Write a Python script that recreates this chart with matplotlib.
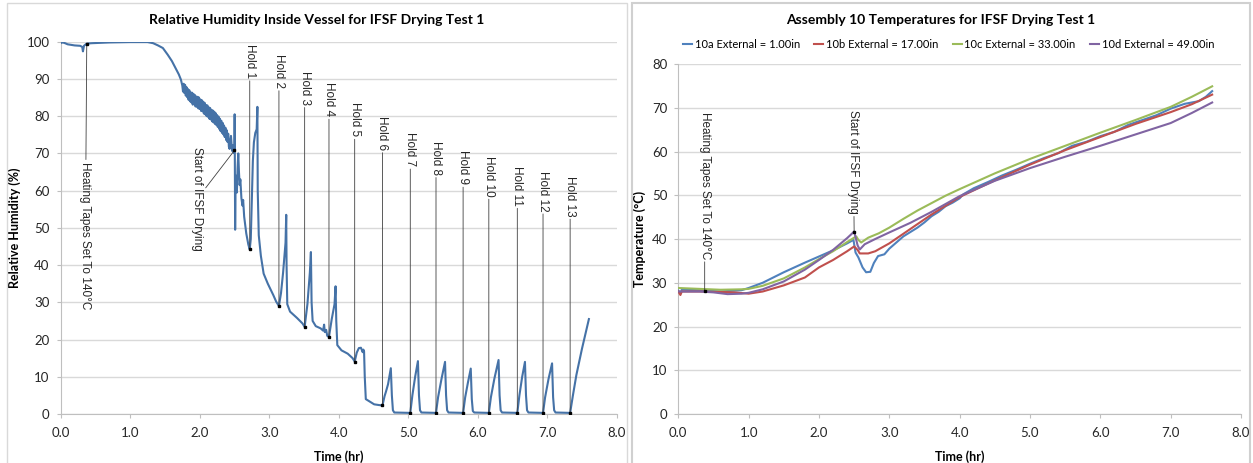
import numpy as np
import matplotlib
matplotlib.use('Agg')
import matplotlib.pyplot as plt
from matplotlib.patches import Rectangle

plt.rcParams['font.family'] = ['Lato', 'DejaVu Sans']

# ---------------- relative humidity inside vessel ----------------
rh_time = [0.00, 0.02, 0.05, 0.10, 0.20, 0.28, 0.31, 0.32, 0.335, 0.375, 0.45, 0.70, 1.00, 1.25,
           1.33, 1.40, 1.47, 1.54, 1.60, 1.65, 1.70, 1.73, 1.75,
           1.76, 1.77, 1.78, 1.79, 1.80, 1.81, 1.82, 1.83, 1.84, 1.85, 1.86, 1.87, 1.88, 1.89,
           1.90, 1.91, 1.92, 1.93, 1.94, 1.95, 1.96, 1.97, 1.98, 1.99, 2.00, 2.01, 2.02, 2.03,
           2.04, 2.05, 2.06, 2.07, 2.08, 2.09, 2.10, 2.11, 2.12, 2.13, 2.14, 2.15, 2.16, 2.17,
           2.18, 2.19, 2.20, 2.21, 2.22, 2.23, 2.24, 2.25, 2.26, 2.27, 2.28, 2.29, 2.30, 2.31,
           2.32, 2.33, 2.34, 2.35, 2.36, 2.37, 2.38, 2.39, 2.40, 2.41, 2.42, 2.43, 2.44, 2.45,
           2.46, 2.47, 2.48, 2.49, 2.50,
           2.503, 2.507, 2.51, 2.515, 2.525, 2.535, 2.545, 2.555, 2.565, 2.575, 2.585, 2.60,
           2.615, 2.625, 2.64, 2.67, 2.70, 2.72,
           2.735, 2.75, 2.765, 2.78, 2.80, 2.82, 2.83, 2.835, 2.85, 2.88, 2.92, 2.98, 3.06, 3.10, 3.14,
           3.17, 3.20, 3.235, 3.245, 3.25, 3.26, 3.30, 3.40, 3.48, 3.51,
           3.55, 3.585, 3.60, 3.61, 3.625, 3.67, 3.74, 3.775, 3.79, 3.80, 3.82, 3.835, 3.86,
           3.90, 3.94, 3.955, 3.965, 3.98, 4.04, 4.13, 4.20, 4.23,
           4.26, 4.29, 4.32, 4.345, 4.355, 4.365, 4.375, 4.39, 4.45, 4.51, 4.58, 4.63,
           4.66, 4.68, 4.71, 4.75, 4.765, 4.78, 4.80, 5.03,
           5.06, 5.10, 5.14, 5.155, 5.17, 5.19, 5.40,
           5.43, 5.48, 5.53, 5.545, 5.56, 5.58, 5.79,
           5.82, 5.86, 5.90, 5.915, 5.93, 5.95, 6.16,
           6.19, 6.24, 6.30, 6.315, 6.33, 6.35, 6.57,
           6.60, 6.64, 6.68, 6.695, 6.71, 6.73, 6.94,
           6.97, 7.02, 7.07, 7.085, 7.10, 7.12, 7.33,
           7.37, 7.42, 7.50, 7.60]
rh_pct = [99.6, 99.8, 99.7, 99.3, 99.0, 98.9, 98.6, 97.4, 98.9, 99.5, 99.6, 99.8, 99.9, 99.9,
          99.6, 99.0, 98.3, 96.5, 94.8, 93.0, 91.2, 89.8, 88.2,
          86.6, 88.7, 86.2, 88.4, 85.5, 87.8, 85.1, 87.3, 84.4, 87.0, 84.0, 86.4, 83.7, 86.3,
          83.1, 86.0, 83.2, 85.7, 82.6, 85.3, 82.5, 85.2, 82.1, 85.0, 81.9, 84.5, 81.4, 84.3,
          81.3, 83.9, 80.7, 83.6, 80.5, 83.0, 80.0, 82.9, 79.8, 82.4, 79.3, 82.2, 79.1, 81.7,
          78.6, 81.5, 78.3, 81.2, 77.9, 80.8, 77.6, 80.3, 77.1, 79.9, 76.6, 79.3, 76.0, 78.8,
          75.5, 78.2, 75.1, 77.5, 74.4, 76.9, 73.6, 76.2, 73.1, 75.3, 71.8, 71.2, 73.4, 74.7,
          72.1, 70.6, 72.2, 70.1, 70.8,
          80.5, 62.0, 49.5, 60.0, 64.0, 59.5, 66.0, 70.0, 65.0, 61.5, 63.0, 58.0,
          56.0, 57.5, 53.0, 48.5, 45.5, 44.2,
          47.0, 57.0, 68.0, 73.0, 75.5, 76.5, 82.5, 60.0, 48.0, 42.5, 37.7, 35.0, 31.9, 30.2, 29.0,
          32.5, 38.0, 46.0, 53.5, 40.0, 29.5, 27.5, 25.8, 24.3, 23.4,
          29.5, 38.0, 43.5, 30.0, 25.0, 23.6, 23.0, 22.4, 24.0, 22.0, 22.6, 21.0, 20.7,
          25.5, 29.5, 34.3, 25.0, 18.5, 17.1, 16.2, 15.0, 14.1,
          16.5, 17.7, 17.8, 16.6, 17.3, 16.8, 10.0, 4.0, 3.3, 2.6, 2.4, 2.3,
          4.8, 6.0, 8.0, 12.3, 5.0, 1.0, 0.4, 0.3,
          5.0, 10.0, 14.2, 5.0, 1.0, 0.4, 0.3,
          4.5, 9.5, 14.0, 5.0, 1.0, 0.4, 0.3,
          4.5, 8.5, 12.2, 4.0, 0.8, 0.4, 0.3,
          4.5, 9.5, 14.5, 5.0, 1.0, 0.4, 0.3,
          5.0, 10.0, 14.0, 5.0, 1.0, 0.4, 0.3,
          4.5, 9.5, 13.6, 4.5, 1.0, 0.4, 0.3,
          5.0, 10.5, 17.5, 25.5]

hold_names = ['Hold %d' % i for i in range(1, 14)]
hold_time = [2.72, 3.14, 3.51, 3.86, 4.23, 4.63, 5.03, 5.40, 5.79, 6.16, 6.57, 6.94, 7.33]
hold_label_top = [99.4, 96.7, 92.2, 89.1, 83.7, 80.1, 75.7, 73.4, 70.8, 69.4, 66.7, 65.4, 64.0]

heat_time = 0.375
dry_time = 2.50

# ---------------- assembly 10 temperatures ----------------
series_names = ['10a External = 1.00in', '10b External = 17.00in',
                '10c External = 33.00in', '10d External = 49.00in']
series_colors = ['#4F81BD', '#C0504D', '#9BBB59', '#8064A2']

time_a = [0.00, 0.03, 0.05, 0.30, 0.60, 0.90, 1.00, 1.20, 1.50, 1.80, 2.00, 2.20, 2.40, 2.49,
          2.52, 2.56, 2.62, 2.67, 2.73, 2.78, 2.84, 2.93, 3.00, 3.10, 3.20, 3.30, 3.40, 3.50,
          3.60, 3.70, 3.80, 3.90, 4.00, 4.05, 4.20, 4.40, 4.60, 4.80, 5.00, 5.20, 5.40, 5.60,
          5.80, 6.00, 6.20, 6.40, 6.60, 6.80, 7.00, 7.20, 7.40, 7.50, 7.59]
temp_a = [28.2, 27.6, 28.4, 28.3, 28.0, 28.3, 28.8, 30.0, 32.4, 34.6, 36.0, 37.4, 39.0, 39.8,
          36.9, 35.8, 33.5, 32.4, 32.5, 34.5, 36.1, 36.5, 37.8, 39.2, 40.6, 41.6, 42.6, 43.8,
          45.2, 46.2, 47.5, 48.3, 49.3, 50.2, 51.6, 53.0, 54.5, 55.8, 57.2, 58.5, 59.6, 61.3,
          62.2, 63.5, 64.5, 66.1, 67.2, 68.3, 69.8, 70.9, 71.5, 72.5, 73.8]

time_b = [0.00, 0.03, 0.05, 0.30, 0.60, 0.80, 1.00, 1.20, 1.50, 1.80, 2.00, 2.20, 2.40, 2.50,
          2.55, 2.58, 2.70, 2.80, 3.00, 3.20, 3.40, 3.60, 3.80, 4.00, 4.50, 5.00, 5.50, 6.00,
          6.50, 7.00, 7.30, 7.59]
temp_b = [28.0, 27.2, 28.0, 28.0, 27.9, 27.8, 27.5, 28.0, 29.4, 31.2, 33.5, 35.2, 37.2, 38.3,
          37.5, 36.7, 36.7, 37.2, 39.0, 41.2, 43.4, 45.6, 47.6, 49.6, 53.4, 57.0, 60.3, 63.3,
          66.3, 69.0, 70.8, 73.0]

time_c = [0.00, 0.30, 0.60, 0.90, 1.00, 1.20, 1.50, 1.80, 2.00, 2.20, 2.40, 2.50, 2.53, 2.56,
          2.60, 2.70, 2.85, 3.00, 3.20, 3.40, 3.60, 3.80, 4.00, 4.50, 5.00, 5.50, 6.00, 6.50,
          7.00, 7.30, 7.59]
temp_c = [28.8, 28.6, 28.4, 28.5, 28.6, 29.3, 31.0, 33.5, 35.4, 37.2, 39.3, 40.3, 40.6, 39.8,
          39.2, 40.3, 41.3, 42.6, 44.6, 46.5, 48.2, 49.9, 51.4, 55.0, 58.3, 61.3, 64.3, 67.2,
          70.2, 72.5, 74.9]

time_d = [0.00, 0.30, 0.50, 0.70, 0.90, 1.00, 1.20, 1.50, 1.80, 2.00, 2.20, 2.40, 2.50, 2.55,
          2.58, 2.65, 2.80, 3.00, 3.30, 3.60, 3.80, 4.00, 4.50, 5.00, 5.50, 6.00, 6.50, 7.00,
          7.30, 7.59]
temp_d = [28.0, 28.0, 27.8, 27.4, 27.5, 27.7, 28.5, 30.3, 33.0, 35.2, 37.5, 40.2, 41.7, 38.5,
          37.6, 38.8, 40.0, 41.5, 43.7, 46.2, 48.0, 49.8, 53.3, 56.2, 58.8, 61.3, 63.9, 66.5,
          68.8, 71.2]

temp_times = [time_a, time_b, time_c, time_d]
temp_values = [temp_a, temp_b, temp_c, temp_d]

ANN_FONT = dict(family=['Liberation Sans', 'DejaVu Sans'], fontsize=8.5, color='#262626')
LEADER = dict(arrowstyle='-', color='#404040', lw=0.6, shrinkA=0, shrinkB=0)


def style_axes(ax, ymax, ystep):
    ax.set_xlim(0, 8)
    ax.set_ylim(0, ymax)
    ax.set_xticks(np.arange(0, 8.1, 1.0))
    ax.set_xticklabels(['%.1f' % v for v in np.arange(0, 8.1, 1.0)])
    ax.set_yticks(np.arange(0, ymax + 1, ystep))
    ax.grid(axis='y', color='#D9D9D9', lw=1)
    ax.set_axisbelow(True)
    ax.spines['top'].set_visible(False)
    ax.spines['right'].set_visible(False)
    for s in ['left', 'bottom']:
        ax.spines[s].set_color('#BFBFBF')
        ax.spines[s].set_linewidth(0.8)
    ax.tick_params(length=3, width=0.8, color='#BFBFBF', labelsize=9.5,
                   labelcolor='#262626')
    ax.tick_params(axis='x', pad=6)
    ax.tick_params(axis='y', pad=5)
    ax.set_xlabel('Time (hr)', fontsize=9, fontweight='bold')


fig = plt.figure(figsize=(12.53, 4.63), dpi=100)

# panel frames
fig.add_artist(Rectangle((7 / 1253, -0.02), 620 / 1253, 1.0 - 3 / 463 + 0.02,
                         transform=fig.transFigure, fill=False, ec='#D9D9D9', lw=1))
fig.add_artist(Rectangle((632 / 1253, -0.02), 618 / 1253, 1.0 - 3 / 463 + 0.02,
                         transform=fig.transFigure, fill=False, ec='#D0D0D0', lw=1.5))

# ---- left chart ----
ax1 = fig.add_axes([0.04844, 0.10583, 0.44374, 0.8041])
style_axes(ax1, 100, 10)
ax1.plot(rh_time, rh_pct, color='#4572A7', lw=1.5, zorder=3)
ax1.set_ylabel('Relative Humidity (%)', fontsize=9, fontweight='bold')
ax1.yaxis.set_label_coords(-0.072, 0.5)
ax1.xaxis.set_label_coords(0.5, -0.097)

hold_rh = np.interp(hold_time, rh_time, rh_pct)
for name, t, top, r in zip(hold_names, hold_time, hold_label_top, hold_rh):
    ax1.annotate(name, xy=(t, r), xytext=(t, top), rotation=-90, ha='center', va='top',
                 arrowprops=LEADER, zorder=4, **ANN_FONT)
ax1.plot(hold_time, hold_rh, 's', color='black', ms=1.8, zorder=5)

heat_rh = np.interp(heat_time, rh_time, rh_pct)
ax1.annotate('Heating Tapes Set To 140°C', xy=(heat_time, heat_rh), xytext=(heat_time - 0.02, 67.6),
             rotation=-90, ha='center', va='top', arrowprops=LEADER, zorder=4, **ANN_FONT)
dry_rh = np.interp(dry_time, rh_time, rh_pct)
ax1.annotate('Start of IFSF Drying', xy=(dry_time, dry_rh), xytext=(1.96, 71.6),
             rotation=-90, ha='center', va='top', arrowprops=LEADER, zorder=4, **ANN_FONT)
ax1.plot([heat_time, dry_time], [heat_rh, dry_rh], 's', color='black', ms=1.8, zorder=5)

fig.text(317 / 1253, 1 - 20 / 463, 'Relative Humidity Inside Vessel for IFSF Drying Test 1',
         ha='center', va='center', fontsize=10, fontweight='bold')

# ---- right chart ----
ax2 = fig.add_axes([0.54134, 0.10583, 0.44908, 0.75594])
style_axes(ax2, 80, 10)
lines = []
for tt, vv, c, n in zip(temp_times, temp_values, series_colors, series_names):
    ln, = ax2.plot(tt, vv, color=c, lw=1.5, label=n, zorder=3)
    lines.append(ln)
ax2.set_ylabel('Temperature (°C)', fontsize=9, fontweight='bold')
ax2.yaxis.set_label_coords(-0.058, 0.5)
ax2.xaxis.set_label_coords(0.5, -0.103)

heat_t = np.interp(heat_time, time_a, temp_a)
ax2.annotate('Heating Tapes Set To 140°C', xy=(heat_time, heat_t), xytext=(heat_time, 69.1),
             rotation=-90, ha='center', va='top', arrowprops=LEADER, zorder=4, **ANN_FONT)
dry_t = np.interp(dry_time, time_d, temp_d)
ax2.annotate('Start of IFSF Drying', xy=(dry_time, dry_t), xytext=(dry_time - 0.01, 69.5),
             rotation=-90, ha='center', va='top', arrowprops=LEADER, zorder=4, **ANN_FONT)
ax2.plot([heat_time, dry_time], [heat_t, dry_t], 's', color='black', ms=1.8, zorder=5)

fig.text(941 / 1253, 1 - 20 / 463, 'Assembly 10 Temperatures for IFSF Drying Test 1',
         ha='center', va='center', fontsize=10, fontweight='bold')
fig.legend(handles=lines, loc='center', bbox_to_anchor=(0.757, 1 - 44 / 463),
           bbox_transform=fig.transFigure, ncol=4, frameon=False, fontsize=8,
           handlelength=0.8, handletextpad=0.25, columnspacing=1.3)

fig.savefig('out.png', dpi=100)
